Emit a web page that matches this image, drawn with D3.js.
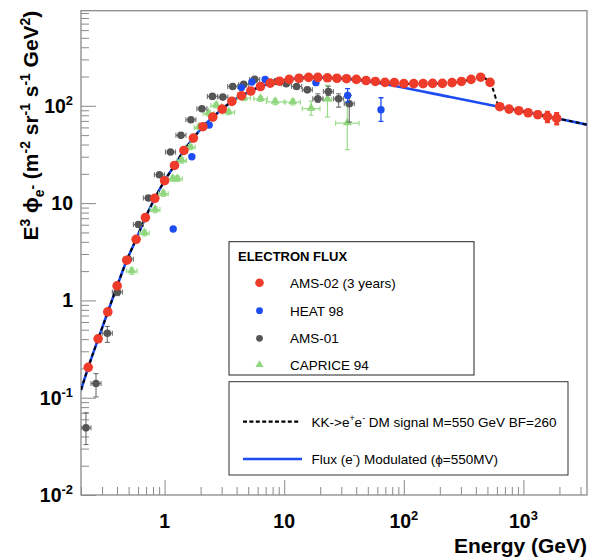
<!DOCTYPE html>
<html>
<head>
<meta charset="utf-8">
<script src="https://cdn.jsdelivr.net/npm/d3@7"></script>
<style>
body { margin: 0; background: #fff; }
text { font-family: "Liberation Sans", Arial, Helvetica, sans-serif; white-space: pre; }
</style>
</head>
<body>
<div id="chart"></div>
<script>
////////////////////////////////////////////////////////////
//////////////////////// Data //////////////////////////////
////////////////////////////////////////////////////////////

// AMS-02 (3 years) - red
var ams02E = [0.23, 0.278, 0.335, 0.401, 0.483, 0.578, 0.691, 0.828, 1.0, 1.21, 1.45, 1.74, 2.09, 2.53, 3.03, 3.65, 4.39, 5.26, 6.33, 7.64,
              9.14, 11.0, 13.3, 16.0, 19.1, 23.0, 27.6, 33.2, 40.1, 48.3, 57.8, 69.6, 83.3, 100, 121, 145, 174, 210, 253, 303,
              365, 439, 526, 634, 759, 914, 1094, 1318, 1588, 1897];
var ams02Flux = [0.205, 0.403, 0.762, 1.41, 2.59, 4.25, 7.1, 11.2, 17.0, 24.4, 34.8, 46.6, 61, 76.6, 92.5, 111, 127, 142, 158, 171,
                 179, 187, 192, 196, 196, 194, 192, 190, 187, 182, 178, 174, 173, 169, 169, 169, 170, 170, 173, 178,
                 187, 197, 174, 97.9, 92.5, 89.1, 84.9, 81.1, 77.3, 74.3];
var ams02Err = [0, 0, 0, 0, 0, 0, 0, 0, 0, 0, 0, 0, 0, 0, 0, 0, 0, 0, 0, 0,
                0, 0, 0, 0, 0, 0, 0, 0, 0, 0, 0, 0, 0, 0, 0, 0, 0, 0, 0, 0,
                0, 0, 0, 0, 0, 0, 0, 0.07, 0.12, 0.13];

// HEAT 98 - blue
var heatE = [1.18, 1.69, 2.36, 4.39, 5.37, 6.93, 18.4, 33.9, 64.4];
var heatFlux = [5.42, 30.0, 63.4, 154, 176, 187, 173, 128, 91.2];
var heatLo = [5.42, 30.0, 63.4, 154, 176, 187, 173, 109, 69.2];
var heatHi = [5.42, 30.0, 63.4, 154, 176, 187, 173, 150, 121];

// AMS-01 - grey
var ams01E = [0.220, 0.267, 0.332, 0.403, 0.498, 0.604, 0.732, 0.905, 1.12, 1.37, 1.66, 2.05, 2.51, 3.07, 3.71, 4.58, 5.66,
              8.65, 10.4, 12.7, 15.6, 19.1, 23.4, 28.5, 35.0];
var ams01Flux = [0.049, 0.140, 0.46, 1.22, 2.65, 6.02, 11.3, 19.6, 33.5, 49.7, 72, 93.3, 125, 123, 158, 166, 187,
                 178, 169, 158, 146, 118, 140, 118, 105];
var ams01Lo = [0.033, 0.102, 0.37, 1.12, 2.5, 5.7, 10.7, 18.6, 31.8, 47.2, 68.4, 88.6, 119, 117, 150, 158, 178,
               169, 160, 150, 137, 109, 128, 97, 68];
var ams01Hi = [0.070, 0.177, 0.54, 1.33, 2.8, 6.3, 11.9, 20.6, 35.2, 52.2, 75.6, 98, 131, 129, 166, 174, 196,
               187, 178, 166, 155, 133, 159, 133, 128];

// CAPRICE 94 - green
var capriceE = [0.531, 0.678, 0.833, 0.977, 1.17, 1.28, 1.39, 1.64, 1.94, 2.33, 2.70, 3.43, 4.6, 6.34, 8.41, 11.8, 16.8, 23.0, 33.7];
var capriceFlux = [2.0, 4.93, 8.58, 12.5, 17.8, 17.8, 27.5, 37.7, 60.4, 84.1, 101, 86.1, 120, 118, 110, 109, 93.4, 116, 66.4];
var capriceLo = [1.85, 4.6, 8.0, 11.7, 16.7, 16.7, 25.8, 35.4, 56.8, 79, 95, 81, 113, 111, 103, 102, 80, 76.6, 35.4];
var capriceHi = [2.15, 5.25, 9.1, 13.3, 18.9, 18.9, 29.2, 40, 64, 89, 107, 91, 127, 125, 117, 116, 112, 162, 109];
var capriceBin = [0.045, 0.04, 0.04, 0.04, 0.04, 0.04, 0.04, 0.04, 0.04, 0.045, 0.045, 0.05, 0.055, 0.056, 0.074, 0.063, 0.074, 0.035, 0.098];

// Flux (e-) modulated (phi = 550 MV) - blue line
var modE = [0.2, 0.23, 0.278, 0.335, 0.401, 0.483, 0.578, 0.691, 0.828, 1.0, 1.21, 1.45, 1.74, 2.09, 2.53, 3.03, 3.65, 4.39,
            5.26, 6.33, 7.64, 9.14, 11, 13.3, 16, 19.1, 23, 27.6, 35.7, 57.8, 93.5, 245, 643, 1683, 3400];
var modFlux = [0.12, 0.205, 0.40, 0.76, 1.41, 2.59, 4.25, 7.1, 11.2, 17, 24.4, 34.8, 46.6, 61, 76.6, 92.5, 111, 127,
               142, 158, 171, 179, 187, 192, 195, 195, 194, 192, 188, 174, 156, 123, 97, 76.6, 64];

// KK -> e+e- DM signal M=550 GeV BF=260 - black dashed
var dmE = [0.2, 0.23, 0.278, 0.335, 0.401, 0.483, 0.578, 0.691, 0.828, 1.0, 1.21, 1.45, 1.74, 2.09, 2.53, 3.03, 3.65, 4.39,
           5.26, 6.33, 7.64, 9.14, 11.0, 13.3, 16.0, 19.1, 23.0, 27.6, 33.2, 40.1, 48.3, 57.8, 69.6, 83.3, 100, 121, 145,
           174, 210, 253, 303, 365, 439, 526, 634, 759, 914, 1094, 1318, 1588, 1897, 3400];
var dmFlux = [0.12, 0.205, 0.40, 0.76, 1.41, 2.59, 4.25, 7.1, 11.2, 17, 24.4, 34.8, 46.6, 61, 76.6, 92.5, 111, 127,
              142, 158, 171, 179, 187, 192, 196, 196, 194, 192, 190, 187, 182, 178, 174, 173, 169, 169, 169,
              170, 170, 173, 178, 187, 197, 174, 97.5, 92.5, 89, 85, 81, 77.3, 74.3, 64];

var xLabelTicks = [1, 10, 100, 1000];
var yLabelTicks = [0.01, 0.1, 1, 10, 100];

////////////////////////////////////////////////////////////
//////////////////// Set up the svg ////////////////////////
////////////////////////////////////////////////////////////

var width = 595, height = 558;
var frame = { left: 81, right: 587, top: 10.7, bottom: 495 };
var axisColor = "#8a8a8a";

var svg = d3.select("#chart").append("svg")
    .attr("width", width)
    .attr("height", height);

var x = d3.scaleLog().domain([0.2, 3400]).range([frame.left, frame.right]);
var y = d3.scaleLog().domain([0.01, 950]).range([frame.bottom, frame.top]);

function isMajor(v) { return Math.abs(Math.log10(v) - Math.round(Math.log10(v))) < 1e-6; }

svg.append("clipPath").attr("id", "plotclip")
  .append("rect")
    .attr("x", frame.left).attr("y", frame.top)
    .attr("width", frame.right - frame.left)
    .attr("height", frame.bottom - frame.top);

// write text with super/subscripts
function richText(sel, parts, fs) {
    var cur = 0;
    parts.forEach(function(p) {
        var off = p[1] === "sup" ? -0.4 * fs : p[1] === "sub" ? 0.28 * fs : p[1] === "subsup" ? -0.05 * fs : 0;
        sel.append("tspan")
            .attr("dy", off - cur)
            .attr("font-size", p[1] === "n" ? fs : 0.66 * fs)
            .text(p[0]);
        cur = off;
    });
}

function powParts(v) {
    var e = Math.round(Math.log10(v));
    if (e === 0) return [["1", "n"]];
    if (e === 1) return [["10", "n"]];
    return [["10", "n"], [String(e), "sup"]];
}

////////////////////////////////////////////////////////////
///////////////////////// Axes /////////////////////////////
////////////////////////////////////////////////////////////

var xAxis = d3.axisBottom(x)
    .tickValues(x.ticks())
    .tickSizeInner(-15)
    .tickSizeOuter(0)
    .tickFormat("");

var gx = svg.append("g")
    .attr("transform", "translate(0," + frame.bottom + ")")
    .call(xAxis);
gx.select(".domain").remove();
gx.selectAll(".tick line")
    .attr("stroke", axisColor)
    .attr("y2", function(d) { return isMajor(d) ? -15 : -8; });

var yAxis = d3.axisLeft(y)
    .tickValues(y.ticks())
    .tickSizeInner(-15)
    .tickSizeOuter(0)
    .tickFormat("");

var gy = svg.append("g")
    .attr("transform", "translate(" + frame.left + ",0)")
    .call(yAxis);
gy.select(".domain").remove();
gy.selectAll(".tick line")
    .attr("stroke", axisColor)
    .attr("x2", function(d) { return isMajor(d) ? 15 : 8; });

svg.append("rect")
    .attr("x", frame.left).attr("y", frame.top)
    .attr("width", frame.right - frame.left)
    .attr("height", frame.bottom - frame.top)
    .attr("fill", "none")
    .attr("stroke", axisColor)
    .attr("stroke-width", 1.3);

// tick labels
xLabelTicks.forEach(function(v) {
    var t = svg.append("text")
        .attr("x", x(v))
        .attr("y", 528)
        .attr("text-anchor", "middle")
        .attr("font-weight", "bold")
        .attr("font-size", 19.5);
    richText(t, powParts(v), 19.5);
});

yLabelTicks.forEach(function(v) {
    var t = svg.append("text")
        .attr("x", 73)
        .attr("y", y(v) + 7)
        .attr("text-anchor", "end")
        .attr("font-weight", "bold")
        .attr("font-size", 19.5);
    richText(t, powParts(v), 19.5);
});

// axis titles
var xTitle = svg.append("text")
    .attr("x", frame.right)
    .attr("y", 553)
    .attr("text-anchor", "end")
    .attr("font-weight", "bold")
    .attr("font-size", 21)
    .text("Energy (GeV)");

var yTitle = svg.append("text")
    .attr("transform", "translate(38," + frame.top + ") rotate(-90)")
    .attr("text-anchor", "end")
    .attr("font-weight", "bold")
    .attr("font-size", 21);
richText(yTitle, [["E", "n"], ["3", "sup"], [" \u03d5", "n"], ["e", "sub"], ["-", "subsup"],
                  [" (m", "n"], ["-2", "sup"], [" sr", "n"], ["-1", "sup"], [" s", "n"], ["-1", "sup"],
                  [" GeV", "n"], ["2", "sup"], [")", "n"]], 21);

////////////////////////////////////////////////////////////
///////////////////////// Lines ////////////////////////////
////////////////////////////////////////////////////////////

var plot = svg.append("g").attr("clip-path", "url(#plotclip)");

var line = d3.line()
    .x(function(d) { return x(d[0]); })
    .y(function(d) { return y(d[1]); })
    .curve(d3.curveMonotoneX);

plot.append("path")
    .datum(d3.zip(modE, modFlux))
    .attr("d", line)
    .attr("fill", "none")
    .attr("stroke", "#1d4cf2")
    .attr("stroke-width", 2.6);

plot.append("path")
    .datum(d3.zip(dmE, dmFlux))
    .attr("d", line)
    .attr("fill", "none")
    .attr("stroke", "#000")
    .attr("stroke-width", 2)
    .attr("stroke-dasharray", "4,3");

////////////////////////////////////////////////////////////
//////////////////////// Points ////////////////////////////
////////////////////////////////////////////////////////////

function errorBars(g, E, F, lo, hi, bin, color, w) {
    var cap = 2.5;
    E.forEach(function(e, i) {
        var cx = x(e), cy = y(F[i]);
        if (bin) {
            var b = Array.isArray(bin) ? bin[i] : bin;
            var x0 = x(e / Math.pow(10, b)), x1 = x(e * Math.pow(10, b));
            g.append("line").attr("x1", x0).attr("x2", x1).attr("y1", cy).attr("y2", cy);
            g.append("line").attr("x1", x0).attr("x2", x0).attr("y1", cy - cap).attr("y2", cy + cap);
            g.append("line").attr("x1", x1).attr("x2", x1).attr("y1", cy - cap).attr("y2", cy + cap);
        }
        if (lo && hi[i] > lo[i]) {
            var y0 = y(lo[i]), y1 = y(hi[i]);
            g.append("line").attr("x1", cx).attr("x2", cx).attr("y1", y0).attr("y2", y1);
            g.append("line").attr("x1", cx - cap).attr("x2", cx + cap).attr("y1", y0).attr("y2", y0);
            g.append("line").attr("x1", cx - cap).attr("x2", cx + cap).attr("y1", y1).attr("y2", y1);
        }
    });
    g.attr("stroke", color).attr("stroke-width", w);
}

var triangle = d3.symbol().type(d3.symbolTriangle).size(34);

// CAPRICE 94
errorBars(plot.append("g"), capriceE, capriceFlux, capriceLo, capriceHi, capriceBin, "#9bdc8c", 1.2);
plot.append("g").selectAll("path")
    .data(d3.zip(capriceE, capriceFlux))
    .enter().append("path")
    .attr("transform", function(d) { return "translate(" + x(d[0]) + "," + (y(d[1]) - 0.5) + ")"; })
    .attr("d", triangle)
    .attr("fill", "#8fd67e");

// AMS-01
errorBars(plot.append("g"), ams01E, ams01Flux, ams01Lo, ams01Hi, 0.042, "#707070", 1.1);
plot.append("g").selectAll("circle")
    .data(d3.zip(ams01E, ams01Flux))
    .enter().append("circle")
    .attr("cx", function(d) { return x(d[0]); })
    .attr("cy", function(d) { return y(d[1]); })
    .attr("r", 3.8)
    .attr("fill", "#555555");

// HEAT 98
errorBars(plot.append("g"), heatE, heatFlux, heatLo, heatHi, 0, "#1d4cf2", 1.3);
plot.append("g").selectAll("circle")
    .data(d3.zip(heatE, heatFlux))
    .enter().append("circle")
    .attr("cx", function(d) { return x(d[0]); })
    .attr("cy", function(d) { return y(d[1]); })
    .attr("r", 3.7)
    .attr("fill", "#1d4cf2");

// AMS-02
var errLo = ams02Flux.map(function(f, i) { return f * (1 - ams02Err[i]); });
var errHi = ams02Flux.map(function(f, i) { return f * (1 + ams02Err[i]); });
errorBars(plot.append("g"), ams02E, ams02Flux, errLo, errHi, 0, "#ef3b2a", 2.5);
plot.append("g").selectAll("circle")
    .data(d3.zip(ams02E, ams02Flux))
    .enter().append("circle")
    .attr("cx", function(d) { return x(d[0]); })
    .attr("cy", function(d) { return y(d[1]); })
    .attr("r", 4.8)
    .attr("fill", "#ef3b2a");

////////////////////////////////////////////////////////////
//////////////////////// Legends ///////////////////////////
////////////////////////////////////////////////////////////

var leg1 = svg.append("g");
leg1.append("rect")
    .attr("x", 229).attr("y", 241.7)
    .attr("width", 245).attr("height", 133.3)
    .attr("fill", "#fff").attr("stroke", "#222").attr("stroke-width", 1);
leg1.append("text")
    .attr("x", 238).attr("y", 260.5)
    .attr("font-weight", "bold").attr("font-size", 13)
    .text("ELECTRON FLUX");

var legItems = [
    { label: "AMS-02 (3 years)", color: "#ef3b2a", shape: "circle", r: 4.3, cy: 282.7 },
    { label: "HEAT 98", color: "#1d4cf2", shape: "circle", r: 3.4, cy: 310.7 },
    { label: "AMS-01", color: "#555555", shape: "circle", r: 3.4, cy: 338.3 },
    { label: "CAPRICE 94", color: "#8fd67e", shape: "triangle", r: 0, cy: 364.8 }
];
legItems.forEach(function(d) {
    if (d.shape === "circle") {
        leg1.append("circle").attr("cx", 259.5).attr("cy", d.cy).attr("r", d.r).attr("fill", d.color);
    } else {
        leg1.append("path").attr("transform", "translate(259.5," + d.cy + ")")
            .attr("d", d3.symbol().type(d3.symbolTriangle).size(28)).attr("fill", d.color);
    }
    leg1.append("text")
        .attr("x", 290).attr("y", d.cy + 4.8)
        .attr("font-size", 13.5)
        .text(d.label);
});

var leg2 = svg.append("g");
leg2.append("rect")
    .attr("x", 229).attr("y", 381.7)
    .attr("width", 339).attr("height", 93.3)
    .attr("fill", "#fff").attr("stroke", "#333").attr("stroke-width", 1);
leg2.append("line")
    .attr("x1", 243).attr("x2", 300).attr("y1", 421.7).attr("y2", 421.7)
    .attr("stroke", "#000").attr("stroke-width", 2.2).attr("stroke-dasharray", "4,2.4");
var t1 = leg2.append("text").attr("x", 311.5).attr("y", 426.5).attr("font-size", 13.5);
richText(t1, [["KK->e", "n"], ["+", "sup"], ["e", "n"], ["-", "sup"], [" DM signal M=550 GeV BF=260", "n"]], 13.5);
leg2.append("line")
    .attr("x1", 243).attr("x2", 302).attr("y1", 459).attr("y2", 459)
    .attr("stroke", "#1d4cf2").attr("stroke-width", 2.4);
var t2 = leg2.append("text").attr("x", 311.5).attr("y", 463.8).attr("font-size", 13.5);
richText(t2, [["Flux (e", "n"], ["-", "sup"], [") Modulated (\u03d5=550MV)", "n"]], 13.5);
</script>
</body>
</html>
